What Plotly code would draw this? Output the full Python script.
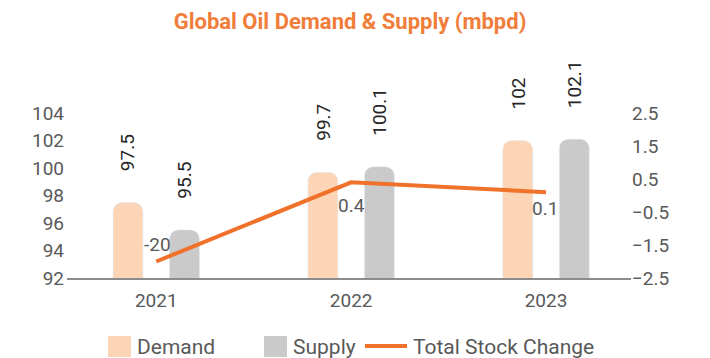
import plotly.graph_objects as go

# Data
years = ["2021", "2022", "2023"]
demand = [97.5, 99.7, 102.0]
supply = [95.5, 100.1, 102.1]
stock_change = [-2.0, 0.4, 0.1]
stock_labels = ["-20", "0.4", "0.1"]
demand_labels = ["97.5", "99.7", "102"]
supply_labels = ["95.5", "100.1", "102.1"]
left_ticks = [92, 94, 96, 98, 100, 102, 104]
right_ticks = [-2.5, -1.5, -0.5, 0.5, 1.5, 2.5]

# Styling
W, H = 710, 358
ML, MR, MT, MB = 67, 79, 113, 80
FONT = "Roboto"
TXT = "#595959"
DEMAND_C = "#FBD5B6"
SUPPLY_C = "#CACACA"
LINE_C = "#F0712A"
TITLE_C = "#F07D3A"

pw, ph = W - ML - MR, H - MT - MB


def px_x(x):
    return (x - ML) / pw


def px_y(y):
    return (H - MB - y) / ph


fig = go.Figure()

fig.add_trace(go.Bar(
    x=years, y=demand, name="Demand", marker=dict(color=DEMAND_C, cornerradius=9),
    showlegend=False,
))
fig.add_trace(go.Bar(
    x=years, y=supply, name="Supply", marker=dict(color=SUPPLY_C, cornerradius=9),
    showlegend=False,
))
fig.add_trace(go.Scatter(
    x=years, y=stock_change, name="Total Stock Change", yaxis="y2",
    mode="lines", line=dict(color=LINE_C, width=4), showlegend=False, cliponaxis=False,
))

annotations = []
# Rotated value labels above each bar (category axis positions are serial indices)
for i, (v, t) in enumerate(zip(demand, demand_labels)):
    annotations.append(dict(x=i, y=v, xref="x", yref="y", text=t, showarrow=False,
                            textangle=-90, xshift=-28, yshift=29, yanchor="bottom",
                            font=dict(family=FONT, size=19, color="#262626")))
for i, (v, t) in enumerate(zip(supply, supply_labels)):
    annotations.append(dict(x=i, y=v, xref="x", yref="y", text=t, showarrow=False,
                            textangle=-90, xshift=28, yshift=29, yanchor="bottom",
                            font=dict(family=FONT, size=19, color="#262626")))
# Stock change labels
shifts = [(1, 17), (0, -23), (-1, -16)]
for i, (v, t, (dx, dy)) in enumerate(zip(stock_change, stock_labels, shifts)):
    annotations.append(dict(x=i, y=v, xref="x", yref="y2", text=t, showarrow=False,
                            xshift=dx, yshift=dy,
                            font=dict(family=FONT, size=19, color=TXT)))

# Legend
shapes = []
shapes.append(dict(type="rect", xref="paper", yref="paper", x0=px_x(108), x1=px_x(131),
                   y0=px_y(357), y1=px_y(336), fillcolor=DEMAND_C, line=dict(width=0)))
shapes.append(dict(type="rect", xref="paper", yref="paper", x0=px_x(264), x1=px_x(287),
                   y0=px_y(357), y1=px_y(336), fillcolor=SUPPLY_C, line=dict(width=0)))
shapes.append(dict(type="line", xref="paper", yref="paper", x0=px_x(365), x1=px_x(407),
                   y0=px_y(346), y1=px_y(346), line=dict(color=LINE_C, width=4)))
for x0, t in [(135, "Demand"), (291, "Supply"), (411, "Total Stock Change")]:
    annotations.append(dict(x=px_x(x0), y=px_y(347), xref="paper", yref="paper", text=t,
                            showarrow=False, xanchor="left", yanchor="middle",
                            font=dict(family=FONT, size=21, color=TXT)))

fig.update_layout(
    width=W, height=H,
    margin=dict(l=ML, r=MR, t=MT, b=MB, pad=0),
    paper_bgcolor="white", plot_bgcolor="white",
    barmode="group", bargap=0.42, bargroupgap=0.47,
    title=dict(text="<b>Global Oil Demand & Supply (mbpd)</b>", x=0.493, xanchor="center",
               y=1 - 21 / H, yanchor="middle", yref="container",
               font=dict(family=FONT, size=22, color=TITLE_C)),
    xaxis=dict(type="category", range=[-0.458, 2.436], showline=True, linecolor="#8C8C8C",
               linewidth=1.5, ticks="", showgrid=False, zeroline=False,
               tickfont=dict(family=FONT, size=19, color=TXT), ticklabelstandoff=4),
    yaxis=dict(range=[92, 104], tickvals=left_ticks, showgrid=False, zeroline=False,
               showline=False, ticks="", tickfont=dict(family=FONT, size=19, color=TXT),
               ticklabelstandoff=2),
    yaxis2=dict(range=[-2.5, 2.5], tickvals=right_ticks, overlaying="y", side="right",
                showgrid=False, zeroline=False, showline=False, ticks="",
                tickfont=dict(family=FONT, size=19, color=TXT), ticklabelstandoff=0),
    annotations=annotations, shapes=shapes,
)

fig.write_html("out.html")
